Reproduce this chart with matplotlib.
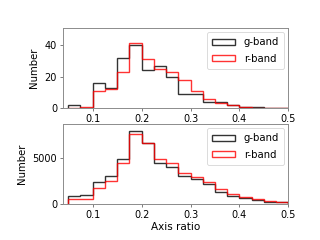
import numpy as np
import matplotlib
matplotlib.use("Agg")
import matplotlib.pyplot as plt

bin_edges = [0.05, 0.075, 0.1, 0.125, 0.15, 0.175, 0.2, 0.225, 0.25, 0.275, 0.3,
             0.325, 0.35, 0.375, 0.4, 0.425, 0.45, 0.475, 0.5]

top_g = [2, 0, 16, 13, 32, 40, 24, 27, 20, 9, 9, 4, 4, 2, 1, 1, 0, 0]
top_r = [0, 1, 11, 12, 23, 41, 31, 25, 23, 18, 11, 6, 3, 2, 1, 0, 0, 0]

bot_g = [840, 985, 2400, 3070, 4890, 8030, 6720, 4530, 4090, 3070, 2700, 2150,
         1350, 910, 620, 440, 255, 180]
bot_r = [510, 580, 1715, 2520, 4450, 7660, 6640, 4890, 4530, 3430, 2920, 2450,
         1610, 1095, 730, 550, 365, 255]

labels = ["g-band", "r-band"]
xticks = [0.1, 0.2, 0.3, 0.4, 0.5]

fs = 7
fig = plt.figure(figsize=(3.2, 2.4), dpi=100)
ax1 = fig.add_axes([0.198, 0.549, 0.703, 0.333])
ax2 = fig.add_axes([0.198, 0.150, 0.703, 0.332])

edges = np.array(bin_edges)
centers = (edges[:-1] + edges[1:]) / 2

for ax, g, r, ylim, yt in [(ax1, top_g, top_r, 50.5, [0, 20, 40]),
                           (ax2, bot_g, bot_r, 8720, [0, 5000])]:
    ax.hist(centers, bins=edges, weights=g, histtype='step', color='black',
            alpha=0.8, lw=1.0, label=labels[0])
    ax.hist(centers, bins=edges, weights=r, histtype='step', color='red',
            alpha=0.8, lw=1.0, label=labels[1])
    ax.set_xlim(0.04, 0.5)
    ax.set_ylim(0, ylim)
    ax.set_xticks(xticks)
    ax.set_yticks(yt)
    ax.tick_params(labelsize=fs, length=2.5, width=0.6, color='0.4', pad=2)
    for s in ax.spines.values():
        s.set_color('0.55')
        s.set_linewidth(0.7)
    ax.set_ylabel("Number", fontsize=fs + 0.3, labelpad=4)
    leg = ax.legend(loc='upper right', fontsize=fs + 0.3, frameon=True, fancybox=True,
                    handlelength=2.2, handleheight=0.6, borderpad=0.5,
                    labelspacing=0.6, handletextpad=0.9, borderaxespad=0.4)
    leg.get_frame().set_linewidth(0.6)

ax2.set_xlabel("Axis ratio", fontsize=fs + 0.5, labelpad=1)

fig.savefig("out.png", dpi=100)
